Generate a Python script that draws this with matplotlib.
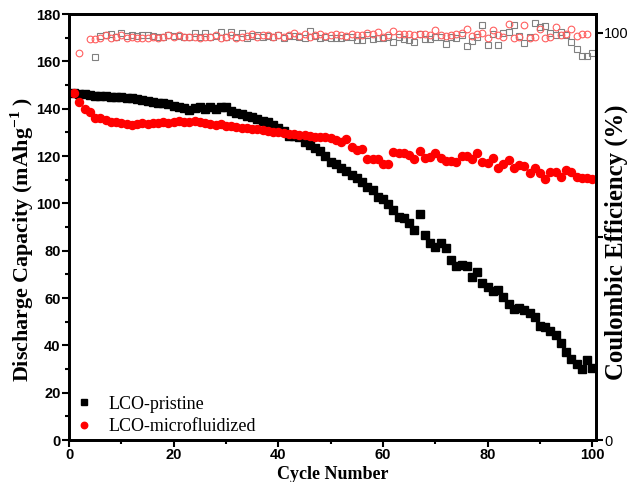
import numpy as np
import matplotlib
matplotlib.use("Agg")
import matplotlib.pyplot as plt
from matplotlib.ticker import MultipleLocator

plt.rcParams["mathtext.fontset"] = "custom"
plt.rcParams["mathtext.rm"] = "Liberation Serif"
plt.rcParams["mathtext.bf"] = "Liberation Serif:bold"

cycles = np.arange(1, 101)

pristine_cap = [
    146.5, 146.0, 146.0, 145.8, 145.5, 145.5, 145.3, 145.0, 144.8, 144.8,
    144.5, 144.3, 144.0, 143.8, 143.3, 143.0, 142.5, 142.2, 141.8, 141.2,
    140.8, 140.2, 139.6, 140.2, 140.8, 140.0, 140.5, 139.8, 140.8, 140.6,
    139.2, 138.2, 137.6, 137.0, 136.4, 135.8, 135.0, 134.2, 133.2, 132.0,
    130.5, 128.5, 128.3, 128.0, 126.0, 124.5, 123.5, 122.0, 120.0, 117.5,
    116.5, 115.0, 113.6, 112.0, 110.8, 109.1, 107.0, 105.6, 102.5, 101.8,
    99.6, 97.2, 94.1, 93.6, 91.5, 88.7, 95.3, 86.6, 83.4, 81.7,
    83.1, 81.0, 76.0, 73.5, 73.9, 73.5, 68.7, 71.1, 66.2, 64.5,
    63.1, 63.4, 60.5, 57.5, 55.2, 55.6, 54.9, 53.5, 52.1, 48.2,
    47.9, 46.2, 44.4, 40.9, 37.0, 34.2, 32.0, 30.0, 33.8, 30.5,
]

micro_cap = [
    146.5, 143.0, 140.0, 138.4, 136.2, 136.2, 135.2, 134.5, 134.5, 133.8,
    133.4, 133.1, 133.4, 133.8, 133.6, 134.0, 134.0, 134.5, 134.0, 134.3,
    134.8, 134.5, 134.4, 134.6, 134.2, 134.0, 133.6, 133.2, 133.4, 132.8,
    132.6, 132.3, 132.0, 131.8, 131.4, 131.2, 130.9, 130.5, 130.3, 130.0,
    129.8, 129.5, 129.2, 129.0, 128.8, 128.5, 128.2, 128.0, 127.9, 127.5,
    126.7, 126.0, 127.0, 123.9, 122.5, 123.0, 118.7, 118.7, 118.7, 116.6,
    116.5, 121.8, 121.1, 121.1, 120.4, 118.6, 122.1, 119.0, 119.4, 121.1,
    119.0, 118.0, 118.0, 117.6, 120.0, 120.0, 118.6, 121.1, 117.6, 117.2,
    119.0, 114.8, 116.6, 118.3, 114.8, 116.2, 115.8, 112.7, 114.8, 112.9,
    110.1, 113.4, 113.4, 111.2, 114.1, 113.4, 111.2, 110.8, 110.5, 110.1,
]

nan = np.nan
pristine_ce = [
    nan, nan, nan, nan, 94.0, 99.3, 99.5, 99.8, 99.1, 99.9,
    99.3, 99.5, 99.3, 99.5, 99.5, 99.3, 99.1, 99.1, 99.5, 99.3,
    99.3, 99.1, 99.1, 99.9, 99.1, 100.1, 99.1, 99.3, 100.3, 98.9,
    100.3, 99.1, 99.9, 98.7, 99.3, 99.5, 99.1, 99.3, 99.1, 99.5,
    98.7, 99.3, 99.3, 98.9, 98.7, 100.6, 99.3, 98.7, 98.9, 98.7,
    98.7, 98.7, 99.1, 98.9, 98.3, 98.3, 99.5, 98.5, 98.7, 98.7,
    98.9, 97.7, 98.9, 98.5, 98.3, 97.9, 99.8, 98.5, 98.5, 98.9,
    99.0, 97.3, 98.9, 98.7, 99.5, 96.8, 98.1, 99.0, 102.0, 97.1,
    99.8, 97.1, 100.1, 100.3, 102.0, 99.3, 97.5, 99.1, 102.4, 101.4,
    101.7, 100.1, 99.5, 100.3, 99.5, 97.9, 96.0, 94.4, 94.4, 95.0,
]

micro_ce = [
    nan, 95.1, nan, 98.5, 98.5, 98.85, 99.55, 98.85, 99.1, 99.55,
    98.85, 99.1, 98.85, 98.85, 98.85, 99.1, 98.85, 99.1, 99.55, 99.1,
    99.55, 99.1, 99.1, 99.1, 98.85, 99.1, 99.1, 99.55, 98.85, 99.1,
    99.55, 98.85, 99.1, 99.26, 99.8, 99.1, 99.55, 99.55, 99.1, 99.55,
    99.1, 99.55, 99.93, 99.26, 99.7, 99.1, 99.55, 99.8, 99.26, 99.55,
    99.75, 99.5, 99.3, 99.75, 99.5, 99.5, 100.1, 99.75, 100.3, 99.1,
    99.5, 100.5, 99.75, 99.75, 99.75, 99.5, 99.75, 99.75, 99.5, 100.7,
    99.5, 99.3, 99.5, 99.75, 99.9, 100.9, 99.3, 99.75, 100.1, 98.85,
    100.7, 99.5, 99.1, 102.2, 98.7, 99.1, 101.95, 98.7, 99.1, 101.1,
    98.7, 99.1, 101.5, 99.5, 99.75, 100.9, 99.3, 99.75, 99.75, nan,
]

labels = ["LCO-pristine", "LCO-microfluidized"]

fig = plt.figure(figsize=(6.32, 4.82), dpi=100)
ax = fig.add_axes([69 / 632, 1 - 440 / 482, (596 - 69) / 632, (440 - 14) / 482])
ax2 = ax.twinx()

ax2.plot(cycles, pristine_ce, ls="none", marker="s", ms=4.4, mfc="none",
         mec="#808080", mew=0.8)
ax2.plot(cycles, micro_ce, ls="none", marker="o", ms=4.8, mfc="none",
         mec="#ff6060", mew=0.8)

h1, = ax.plot(cycles, pristine_cap, ls="none", marker="s", ms=5.2, color="black",
              mec="black", label=labels[0])
h2, = ax.plot(cycles, micro_cap, ls="none", marker="o", ms=5.8, color="red",
              mec="red", label=labels[1])
ax.set_zorder(ax2.get_zorder() + 1)
ax.patch.set_visible(False)

ax.set_xlim(0, 100.7)
ax.set_ylim(0, 180)
ax2.set_ylim(0, (440 - 14) / 4.07)

tick_fp = matplotlib.font_manager.FontProperties(family="Liberation Sans",
                                                 weight="bold", size=10.5)
ax.xaxis.set_major_locator(MultipleLocator(20))
ax.xaxis.set_minor_locator(MultipleLocator(10))
ax.yaxis.set_major_locator(MultipleLocator(20))
ax.yaxis.set_minor_locator(MultipleLocator(10))
for lab in ax.get_xticklabels() + ax.get_yticklabels():
    lab.set_fontproperties(tick_fp)
ax.tick_params(which="major", direction="out", length=5, width=1.5, pad=1,
               top=False, right=False)
ax.tick_params(which="minor", direction="out", length=3, width=1.5,
               top=False, right=False)

ax2.set_yticks([0, 50, 100])
ax2.set_yticklabels(["0", "", "100"], family="Liberation Sans", size=10.5)
ax2.tick_params(direction="out", length=5, width=1.5, pad=1)

for a in (ax, ax2):
    for s in a.spines.values():
        s.set_linewidth(2)

ax.set_xlabel("Cycle Number", family="Liberation Serif", weight="bold",
              size=13, labelpad=2.5)
ax.set_ylabel("Discharge Capacity (mAhg$^{\\mathbf{-1}}$ )", family="Liberation Serif",
              weight="bold", size=15.8)
ax.yaxis.set_label_coords(-0.063, 0.47)
ax2.set_ylabel("Coulombic Efficiency (%)", family="Liberation Serif", weight="bold",
               size=17.8)
ax2.yaxis.set_label_coords(1.017, 0.465)

ax.legend(handles=[h1, h2], loc="lower left", bbox_to_anchor=(-0.027, -0.035),
          frameon=False, handlelength=1.0, handletextpad=0.85, labelspacing=0.3,
          markerscale=0.8, borderpad=0.6,
          prop=dict(family="Liberation Serif", size=13))

fig.savefig("out.png", dpi=100)
